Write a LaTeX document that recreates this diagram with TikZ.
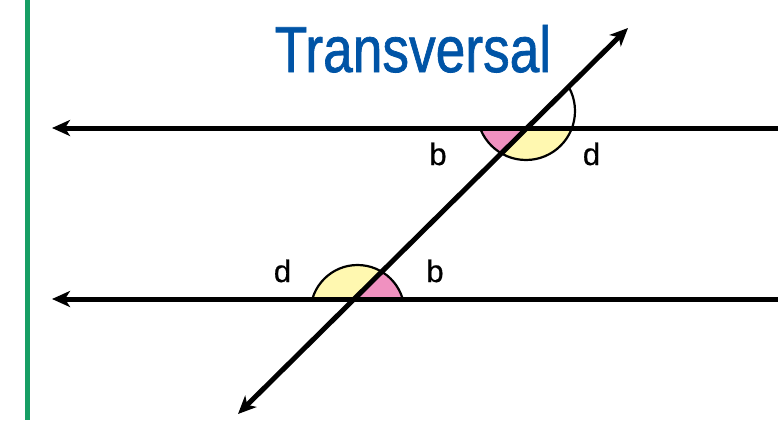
\documentclass[tikz,border=0pt]{standalone}
\usepackage{fontspec}
\setmainfont{Liberation Sans}
\newfontfamily\titlefont[FakeBold=1.2]{Liberation Sans}
\newfontfamily\lblfont[FakeBold=0.6]{Liberation Sans}
\usetikzlibrary{arrows.meta}
\definecolor{titleblue}{RGB}{0,84,166}
\definecolor{barGreen}{RGB}{22,158,100}
\definecolor{angPink}{RGB}{240,145,192}
\definecolor{angYellow}{RGB}{255,248,176}
\begin{document}
\begin{tikzpicture}[x=1pt,y=-1pt,
  mainline/.style={line width=5pt,-{Stealth[length=18pt,width=16pt,inset=5pt]}},
  bothline/.style={line width=5pt,{Stealth[length=18pt,width=16pt,inset=5pt]}-{Stealth[length=18pt,width=16pt,inset=5pt]}},
  arcline/.style={line width=2.2pt},
  lbl/.style={font=\lblfont\fontsize{31}{31}\selectfont,anchor=base,inner sep=0pt}]
\useasboundingbox (0,0) rectangle (778,420);
% green bar
\coordinate (G1) at (27.5,0);
\coordinate (G2) at (27.5,420);
\draw[barGreen,line width=5.5pt] (G1) -- (G2);
% key points
\coordinate (L1r) at (778,128);
\coordinate (L1l) at (52,128);
\coordinate (L2r) at (778,299);
\coordinate (L2l) at (52,299);
\coordinate (T1) at (238,414);
\coordinate (T2) at (628,28);
\coordinate (P) at (527,128);
\coordinate (Q) at (356,299);
\coordinate (CP) at (526,111);
\coordinate (CQ) at (357.5,312);
% top angle fills
\begin{scope}
  \clip (P) -- ++(-150,0) -- ++(0,148.5) -- cycle;
  \fill[angPink] (CP) circle[radius=49];
\end{scope}
\begin{scope}
  \clip (P) -- ++(-150,148.5) -- ++(0,60) -- ++(300,0) -- ++(0,-208.5) -- cycle;
  \fill[angYellow] (CP) circle[radius=49];
\end{scope}
\begin{scope}
  \clip (P) -- ++(100,-99) -- ++(100,0) -- ++(0,300) -- ++(-400,0) -- ++(0,-201) -- cycle;
  \draw[arcline] (CP) circle[radius=49];
\end{scope}
% bottom angle fills
\begin{scope}
  \clip (Q) -- ++(150,0) -- ++(0,-148.5) -- cycle;
  \fill[angPink] (CQ) circle[radius=47];
\end{scope}
\begin{scope}
  \clip (Q) -- ++(-150,0) -- ++(0,-200) -- ++(352,0) -- cycle;
  \fill[angYellow] (CQ) circle[radius=47];
\end{scope}
\begin{scope}
  \clip (200,299) rectangle (520,200);
  \draw[arcline] (CQ) circle[radius=47];
\end{scope}
% lines
\draw[mainline] (L1r) -- (L1l);
\draw[mainline] (L2r) -- (L2l);
\draw[bothline] (T1) -- (T2);
% labels
\node[lbl] (b1) at (438,165) {b};
\node[lbl] (d1) at (591.5,165) {d};
\node[lbl] (d2) at (282.5,282) {d};
\node[lbl] (b2) at (435,282) {b};
% title
\node[anchor=base,inner sep=0pt,text=titleblue,font=\titlefont\fontsize{65}{65}\selectfont] (title) at (413,72) {\scalebox{0.82}[1]{Transversal}};
\end{tikzpicture}
\end{document}
